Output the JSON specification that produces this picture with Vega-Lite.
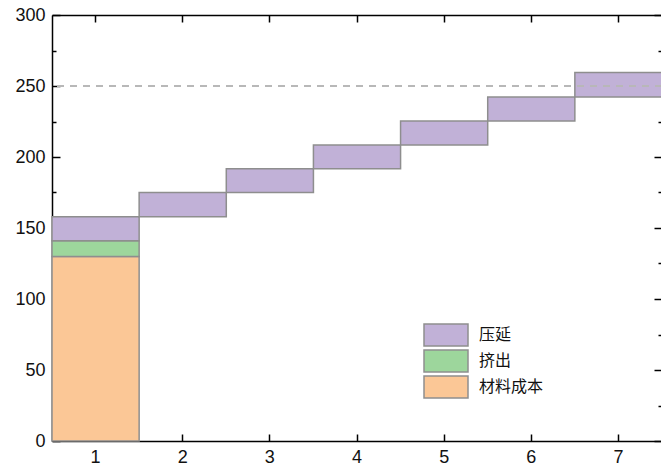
{
  "$schema": "https://vega.github.io/schema/vega-lite/v6.json",
  "width": 610,
  "height": 426,
  "autosize": "none",
  "padding": {"left": 52, "top": 15, "right": 0, "bottom": 26},
  "background": "white",
  "config": {
    "view": {"stroke": null},
    "axis": {
      "domainColor": "#000",
      "domainWidth": 1.5,
      "tickColor": "#000",
      "tickWidth": 1.5,
      "labelFont": "Liberation Sans",
      "labelFontSize": 18,
      "labelColor": "#111",
      "grid": false,
      "title": null
    }
  },
  "data": {
    "values": [
      {"step": "1", "cat": "材料成本", "lo": 0, "hi": 130},
      {"step": "1", "cat": "挤出", "lo": 130, "hi": 141},
      {"step": "1", "cat": "压延", "lo": 141, "hi": 158},
      {"step": "2", "cat": "压延", "lo": 158, "hi": 175},
      {"step": "3", "cat": "压延", "lo": 175, "hi": 191.7},
      {"step": "4", "cat": "压延", "lo": 191.7, "hi": 208.5},
      {"step": "5", "cat": "压延", "lo": 208.5, "hi": 225.4},
      {"step": "6", "cat": "压延", "lo": 225.4, "hi": 242.3},
      {"step": "7", "cat": "压延", "lo": 242.3, "hi": 259.5}
    ]
  },
  "layer": [
    {
      "mark": {"type": "bar", "stroke": "#8e8e8e", "strokeWidth": 1.5, "opacity": 1},
      "encoding": {
        "x": {
          "field": "step", "type": "ordinal",
          "scale": {"paddingInner": 0, "paddingOuter": 0},
          "axis": {"orient": "bottom", "labelAngle": 0, "tickSize": -7, "labelPadding": 14, "title": null}
        },
        "y": {
          "field": "lo", "type": "quantitative",
          "scale": {"domain": [0, 300], "nice": false},
          "axis": {
            "orient": "left", "title": null,
            "values": [0, 25, 50, 75, 100, 125, 150, 175, 200, 225, 250, 275, 300],
            "labelExpr": "datum.value % 50 === 0 ? datum.label : ''",
            "tickSize": {"condition": {"test": "datum.value % 50 !== 0", "value": -4}, "value": -8},
            "labelPadding": 15
          }
        },
        "y2": {"field": "hi"},
        "color": {
          "field": "cat", "type": "nominal",
          "scale": {"domain": ["压延", "挤出", "材料成本"], "range": ["#c1b1d7", "#9dd69c", "#fbc796"]},
          "legend": {
            "orient": "none", "legendX": 382, "legendY": 308, "title": null, "padding": 0,
            "symbolType": "M-2,-1H2V1H-2Z", "symbolSize": 484,
            "symbolStrokeColor": "#8e8e8e", "symbolStrokeWidth": 1.5, "symbolOpacity": 1,
            "labelFont": "Noto Sans CJK SC", "labelFontSize": 16, "labelColor": "#111",
            "labelOffset": 21, "rowPadding": -2
          }
        }
      }
    },
    {
      "mark": {"type": "bar", "opacity": 0},
      "encoding": {
        "x": {
          "field": "step", "type": "ordinal",
          "axis": {"orient": "top", "labels": false, "tickSize": -7, "title": null}
        },
        "y": {
          "field": "lo", "type": "quantitative",
          "axis": {
            "orient": "right", "labels": false, "title": null,
            "values": [0, 25, 50, 75, 100, 125, 150, 175, 200, 225, 250, 275, 300],
            "tickSize": {"condition": {"test": "datum.value % 50 !== 0", "value": -4}, "value": -8}
          }
        },
        "y2": {"field": "hi"}
      }
    },
    {
      "mark": {"type": "rule", "strokeDash": [7, 6], "color": "#b8b8b8", "strokeWidth": 1.2},
      "encoding": {"y": {"datum": 250, "type": "quantitative", "axis": null}}
    }
  ],
  "resolve": {"axis": {"x": "independent", "y": "independent"}}
}
